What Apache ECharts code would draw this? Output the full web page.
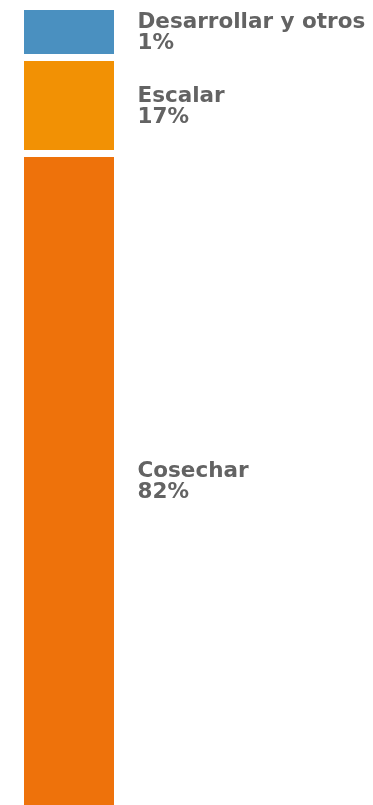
<!DOCTYPE html>
<html>
<head>
<meta charset="utf-8">
<title>Distribución</title>
<script src="https://cdn.jsdelivr.net/npm/echarts@6/dist/echarts.min.js"></script>
<style>
  html, body { margin: 0; padding: 0; background: #ffffff; }
  #chart { width: 373px; height: 805px; }
</style>
</head>
<body>
<div id="chart"></div>
<script>
// Segments of the single stacked bar, top to bottom
const categories = ['Desarrollar y otros', 'Escalar', 'Cosechar'];
// Share of each segment, in percent
const shares = [1, 17, 82];
const colors = ['#4A90C0', '#F29104', '#EE720B'];

// Drawing constants
const SEGMENT_GAP = 7;       // white gap between stacked segments
const MIN_SEGMENT_PX = 47;   // smallest drawn height, so tiny shares stay readable
const LABEL_OFFSET = 23.5;   // space between bar and its label
const LABEL_FONT = 'bold 21.5px "DejaVu Sans", sans-serif';

// [x index, stack start, stack end, share]
const stacked = [];
let running = 0;
shares.forEach((v) => {
  stacked.push([0, running, running + v, v]);
  running += v;
});

// Pixel extent of every segment: each one is at least MIN_SEGMENT_PX tall,
// the next one starts where the previous one ends.
function segmentExtents(api) {
  const out = [];
  let prevEnd = api.coord([0, stacked[0][1]])[1];
  for (let j = 0; j < stacked.length; j++) {
    const propEnd = api.coord([0, stacked[j][2]])[1];
    const end = Math.max(propEnd, prevEnd + MIN_SEGMENT_PX);
    out.push([prevEnd, end]);
    prevEnd = end;
  }
  return out;
}

function renderSegment(params, api) {
  const i = params.dataIndex;
  const ext = segmentExtents(api);
  const last = stacked.length - 1;
  const center = api.coord([api.value(0), 0]);
  const bandWidth = api.size([1, 0])[0];
  const x0 = Math.round(center[0] - bandWidth / 2);
  const top = Math.round(ext[i][0] + (i > 0 ? SEGMENT_GAP / 2 : 0));
  const bottom = Math.round(ext[i][1] - (i < last ? SEGMENT_GAP / 2 : 0));
  return {
    type: 'group',
    children: [
      {
        type: 'rect',
        shape: { x: x0, y: top, width: Math.round(bandWidth), height: bottom - top },
        style: { fill: colors[i] }
      },
      {
        type: 'text',
        x: x0 + bandWidth + LABEL_OFFSET,
        y: (top + bottom) / 2 + 1,
        style: {
          text: categories[i] + '\n' + api.value(3) + '%',
          font: LABEL_FONT,
          lineHeight: 21,
          fill: '#636363',
          align: 'left',
          verticalAlign: 'middle'
        }
      }
    ]
  };
}

const chart = echarts.init(document.getElementById('chart'), null, { renderer: 'canvas' });

chart.setOption({
  animation: false,
  grid: { left: 24, top: 10, width: 90, bottom: 0, containLabel: false },
  xAxis: { type: 'category', data: ['total'], show: false },
  yAxis: { type: 'value', min: 0, max: 100, inverse: true, show: false },
  series: [{
    type: 'custom',
    renderItem: renderSegment,
    data: stacked,
    encode: { x: 0, y: [1, 2] },
    clip: false,
    silent: true
  }]
});
</script>
</body>
</html>
